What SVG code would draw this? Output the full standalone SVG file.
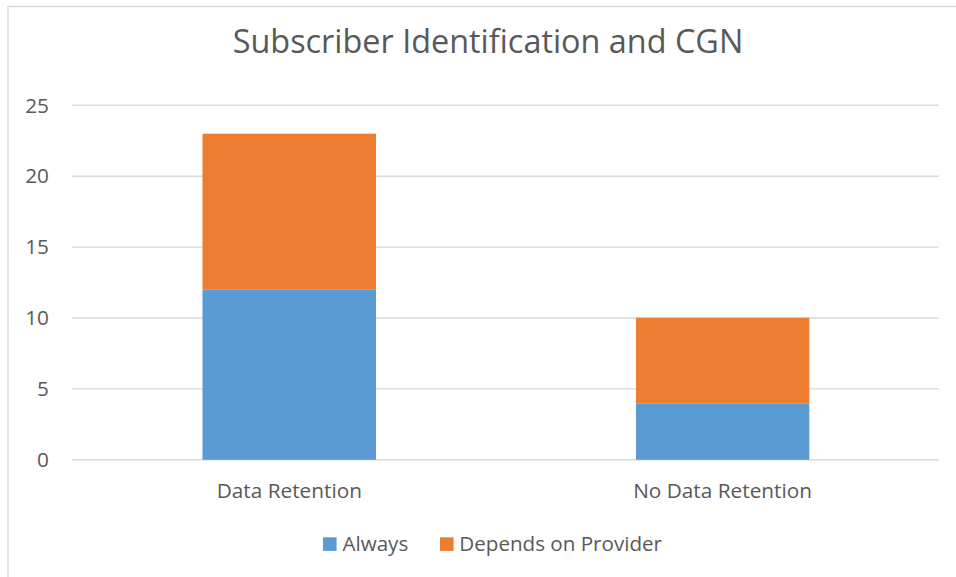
<svg xmlns="http://www.w3.org/2000/svg" width="956" height="577" viewBox="0 0 956 577">
  <style>
    .lbl { font-family: "Open Sans", "Liberation Sans", sans-serif; fill: #595959; }
    .tick { font-size: 20.8px; text-anchor: end; }
    .cat { font-size: 20.8px; text-anchor: middle; }
    .leg { font-size: 20.6px; }
    .grid { stroke: #D9D9D9; stroke-width: 1.4; fill: none; }
    .always { fill: #5B9BD5; }
    .provider { fill: #ED7D31; }
  </style>

  <!-- chart area -->
  <rect x="0" y="0" width="956" height="577" fill="#FFFFFF"/>
  <rect x="8" y="6.5" width="960" height="600" fill="#FFFFFF" stroke="#D9D9D9" stroke-width="1.5"/>

  <!-- title -->
  <text id="title" class="lbl" x="488" y="53" font-size="32.4" text-anchor="middle">Subscriber Identification and CGN</text>

  <!-- value axis gridlines and tick labels -->
  <g id="gridlines">
    <line class="grid" x1="72" y1="105.3" x2="939" y2="105.3"/>
    <line class="grid" x1="72" y1="176.2" x2="939" y2="176.2"/>
    <line class="grid" x1="72" y1="247.1" x2="939" y2="247.1"/>
    <line class="grid" x1="72" y1="318" x2="939" y2="318"/>
    <line class="grid" x1="72" y1="388.9" x2="939" y2="388.9"/>
    <line class="grid" x1="72" y1="459.8" x2="939" y2="459.8"/>
  </g>
  <g id="value-axis" class="lbl tick">
    <text x="49" y="112.5">25</text>
    <text x="49" y="183.4">20</text>
    <text x="49" y="254.3">15</text>
    <text x="49" y="325.2">10</text>
    <text x="49" y="396.1">5</text>
    <text x="49" y="467">0</text>
  </g>

  <!-- stacked bars -->
  <g id="bar-data-retention">
    <rect class="provider" x="202.5" y="133.7" width="173.5" height="156"/>
    <rect class="always" x="202.5" y="289.7" width="173.5" height="170.1"/>
  </g>
  <g id="bar-no-data-retention">
    <rect class="provider" x="636" y="317.7" width="173.3" height="85.6"/>
    <rect class="always" x="636" y="403.3" width="173.3" height="56.5"/>
  </g>

  <!-- category axis labels -->
  <g id="category-axis" class="lbl cat">
    <text x="289.3" y="498">Data Retention</text>
    <text x="722.6" y="498">No Data Retention</text>
  </g>

  <!-- legend -->
  <g id="legend">
    <g id="legend-always">
      <rect class="always" x="323" y="537.3" width="13.6" height="13.6"/>
      <text class="lbl leg" x="342.5" y="551">Always</text>
    </g>
    <g id="legend-provider">
      <rect class="provider" x="440" y="537.3" width="13.6" height="13.6"/>
      <text class="lbl leg" x="459.3" y="551">Depends on Provider</text>
    </g>
  </g>
</svg>
